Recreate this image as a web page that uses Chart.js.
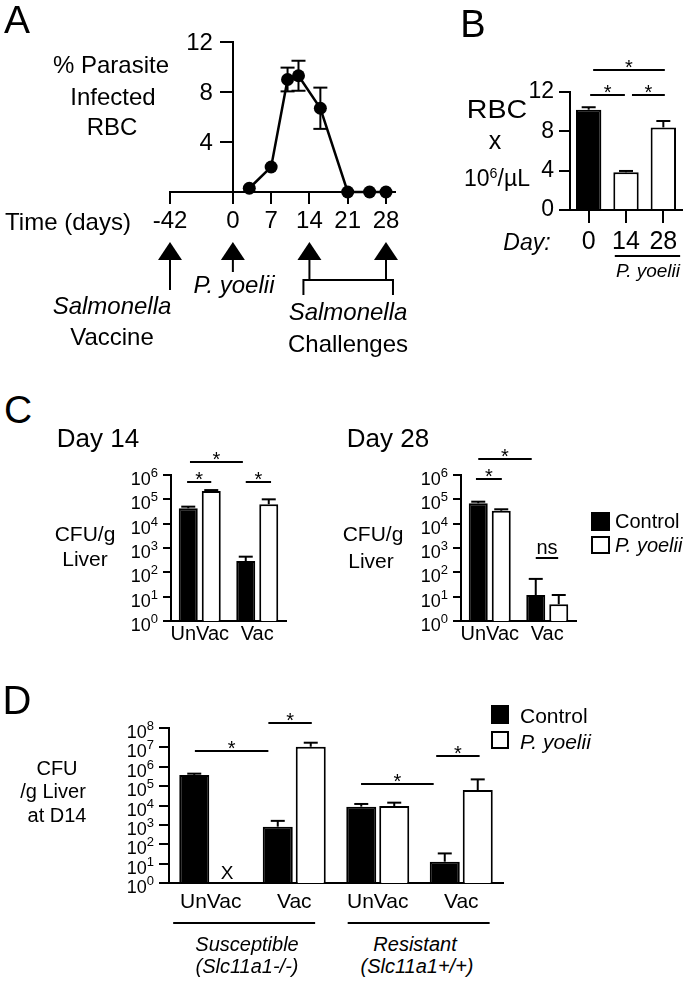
<!DOCTYPE html>
<html><head><meta charset="utf-8">
<script src="https://cdn.jsdelivr.net/npm/chart.js@4.4.0/dist/chart.umd.min.js"></script>
<style>
html,body{margin:0;padding:0;background:#fff}
body{width:690px;height:982px;position:relative;overflow:hidden;font-family:"Liberation Sans",Arial,sans-serif;color:#000}
canvas{position:absolute}
.t{position:absolute;transform:translate(-50%,-50%);white-space:nowrap;line-height:1}
.l{position:absolute;transform:translate(0,-50%);white-space:nowrap;line-height:1}
.it{font-style:italic}
.sq{position:absolute;border:2px solid #000;box-sizing:border-box;background:#fff}
.sq.k{background:#000}
sup{font-size:0.62em;vertical-align:0.55em;line-height:0}
</style></head><body>
<canvas id="cA" width="460" height="360" style="left:0;top:0"></canvas>
<canvas id="cB" width="230" height="300" style="left:460px;top:0"></canvas>
<canvas id="cC14" width="340" height="220" style="left:0;top:440px"></canvas>
<canvas id="cC28" width="260" height="220" style="left:340px;top:440px"></canvas>
<canvas id="cD" width="520" height="240" style="left:0;top:690px"></canvas>

<!-- Panel A text -->
<div class="t" style="left:17px;top:19px;font-size:39px">A</div>
<div class="t" style="left:111px;top:65px;font-size:24px">% Parasite</div>
<div class="t" style="left:113px;top:97px;font-size:24px">Infected</div>
<div class="t" style="left:112px;top:127px;font-size:24px">RBC</div>
<div class="t" style="left:68px;top:222px;font-size:24px">Time (days)</div>
<div class="t it" style="left:234px;top:285px;font-size:24px">P. yoelii</div>
<div class="t it" style="left:112px;top:306px;font-size:24px">Salmonella</div>
<div class="t" style="left:112px;top:337px;font-size:24px">Vaccine</div>
<div class="t it" style="left:348px;top:312px;font-size:24px">Salmonella</div>
<div class="t" style="left:348px;top:344px;font-size:24px">Challenges</div>

<!-- Panel B text -->
<div class="t" style="left:473px;top:24px;font-size:38px">B</div>
<div class="t" style="left:497px;top:109px;font-size:26px;transform:translate(-50%,-50%) scaleX(1.1)">RBC</div>
<div class="t" style="left:495px;top:140px;font-size:25px">x</div>
<div class="t" style="left:497px;top:178px;font-size:23px">10<sup>6</sup>/µL</div>
<div class="t it" style="left:527px;top:242px;font-size:23px">Day:</div>
<div class="t it" style="left:648px;top:270px;font-size:19px">P. yoelii</div>

<!-- Panel C text -->
<div class="t" style="left:18px;top:409px;font-size:39px">C</div>
<div class="t" style="left:98px;top:438px;font-size:26px">Day 14</div>
<div class="t" style="left:388px;top:438px;font-size:26px">Day 28</div>
<div class="t" style="left:85px;top:533px;font-size:21px">CFU/g</div>
<div class="t" style="left:85px;top:558px;font-size:21px">Liver</div>
<div class="t" style="left:373px;top:533px;font-size:21px">CFU/g</div>
<div class="t" style="left:371px;top:560px;font-size:21px">Liver</div>
<div class="sq k" style="left:591px;top:512px;width:19px;height:19px"></div>
<div class="sq" style="left:591px;top:536px;width:19px;height:18px"></div>
<div class="l" style="left:615px;top:521px;font-size:20px">Control</div>
<div class="l it" style="left:615px;top:545px;font-size:20px">P. yoelii</div>

<!-- Panel D text -->
<div class="t" style="left:17px;top:700px;font-size:40px">D</div>
<div class="t" style="left:57px;top:768px;font-size:20px">CFU</div>
<div class="t" style="left:53px;top:791px;font-size:20px">/g Liver</div>
<div class="t" style="left:57px;top:815px;font-size:20px">at D14</div>
<div class="t" style="left:227px;top:872px;font-size:19px">X</div>
<div class="t it" style="left:247px;top:944px;font-size:20px">Susceptible</div>
<div class="t it" style="left:247px;top:966px;font-size:20px">(Slc11a1-/-)</div>
<div class="t it" style="left:415px;top:944px;font-size:20px">Resistant</div>
<div class="t it" style="left:417px;top:966px;font-size:20px">(Slc11a1+/+)</div>
<div class="sq k" style="left:491px;top:705px;width:18px;height:19px"></div>
<div class="sq" style="left:491px;top:731px;width:18px;height:18px"></div>
<div class="l" style="left:520px;top:715px;font-size:21px">Control</div>
<div class="l it" style="left:520px;top:741px;font-size:21px">P. yoelii</div>

<script>
const F = '"Liberation Sans", Arial, sans-serif';

// ---------- Panel A: parasitemia time course ----------
const days = [3, 7, 10, 12, 16, 21, 25, 28];
const parasitemia = [0.3, 2.0, 9.0, 9.3, 6.7, 0, 0, 0];
const parasitemiaErr = [0, 0, 0.95, 1.2, 1.65, 0, 0, 0];
const timeTicks = [-42, 0, 7, 14, 21, 28];
const parasitemiaTicks = [4, 8, 12];
const eventDays = [-42, 0, 14, 28];          // vaccine, P. yoelii, two challenges
const BREAK_AT = -11.5;                      // axis break: day -42 drawn here
const dayPos = d => (d < BREAK_AT ? BREAK_AT : d);

// ---------- Panel B: RBC counts ----------
const rbcDays = ['0', '14', '28'];
const rbcCount = [10.2, 3.85, 8.4];
const rbcErr = [0.25, 0.12, 0.65];
const rbcTicks = [0, 4, 8, 12];
const rbcSig = [[0.04, 0.97, 11.65, '*'], [1.16, 2.04, 11.65, '*'], [0.12, 2.04, 14.2, '*']];

// ---------- Panel C: liver CFU, day 14 & 28 ----------
const vacGroups = ['UnVac', 'Vac'];
const d14Control = [4.3e4, 2.9e2];
const d14ControlErr = [7e3, 1.5e2];
const d14Pyoelii = [2.2e5, 6.3e4];
const d14PyoeliiErr = [2e4, 3.7e4];
const d28Control = [6.9e4, 11.7];
const d28ControlErr = [1.1e4, 42];
const d28Pyoelii = [3.4e4, 4.9];
const d28PyoeliiErr = [5e3, 6.8];
const cfuTicksC = [1, 10, 100, 1e3, 1e4, 1e5, 1e6];
const d14Sig = [[-0.22, 0.2, 5.1e5, '*'], [0.8, 1.24, 5.1e5, '*'], [-0.17, 0.75, 3.4e6, '*']];
const d28Sig = [[-0.24, 0.21, 6.9e5, '*'], [-0.2, 0.73, 4.6e6, '*'], [0.8, 1.19, 390, 'ns']];

// ---------- Panel D: susceptible vs resistant ----------
const strainGroups = ['UnVac', 'Vac', 'UnVac', 'Vac'];
const dControl = [3.8e5, 8.1e2, 8.7e3, 12.6];
const dControlErr = [6e4, 8e2, 3.3e3, 21];
const dPyoelii = [null, 1.08e7, 9.4e3, 6.3e4];
const dPyoeliiErr = [null, 6.6e6, 4.6e3, 1.6e5];
const cfuTicksD = [1, 10, 100, 1e3, 1e4, 1e5, 1e6, 1e7, 1e8];
const dSig = [[-0.19, 0.69, 6.5e6, '*'], [0.69, 1.21, 1.8e8, '*'], [1.8, 2.67, 1.3e5, '*'], [2.7, 3.22, 3.5e6, '*']];
const dStrainSpans = [[-0.45, 1.25], [1.64, 3.34]];

Chart.defaults.font.family = F;
Chart.defaults.color = '#000';

function seg(ctx, x1, y1, x2, y2) { ctx.beginPath(); ctx.moveTo(x1, y1); ctx.lineTo(x2, y2); ctx.stroke(); }

const barErrors = {
  id: 'barErrors',
  afterDatasetsDraw(chart) {
    const ctx = chart.ctx, y = chart.scales.y;
    ctx.save(); ctx.strokeStyle = '#000'; ctx.lineWidth = 2;
    chart.data.datasets.forEach((ds, di) => {
      if (!ds.errors) return;
      chart.getDatasetMeta(di).data.forEach((el, i) => {
        const v = ds.data[i], e = ds.errors[i];
        if (v == null || !e) return;
        const top = y.getPixelForValue(v + e);
        seg(ctx, el.x, el.y, el.x, top);
        seg(ctx, el.x - 7, top, el.x + 7, top);
      });
    });
    ctx.restore();
  }
};

const sig = {
  id: 'sig',
  afterDraw(chart, args, opts) {
    const ctx = chart.ctx, x = chart.scales.x, y = chart.scales.y;
    ctx.save(); ctx.strokeStyle = '#000'; ctx.fillStyle = '#000'; ctx.lineWidth = 2;
    ctx.textAlign = 'center'; ctx.textBaseline = 'alphabetic'; ctx.font = '20px ' + F;
    (opts.marks || []).forEach(([a, b, v, lab]) => {
      const x1 = x.getPixelForValue(a), x2 = x.getPixelForValue(b), py = Math.round(y.getPixelForValue(v));
      seg(ctx, x1, py, x2, py);
      ctx.fillText(lab, (x1 + x2) / 2, lab === 'ns' ? py - 4 : py + 4);
    });
    (opts.spans || []).forEach(([a, b]) => {
      const py = chart.chartArea.bottom + opts.spanOffset;
      seg(ctx, x.getPixelForValue(a), py, x.getPixelForValue(b), py);
    });
    ctx.restore();
  }
};

const powTicks = {
  id: 'powTicks',
  afterDraw(chart, args, opts) {
    const y = chart.scales.y, ctx = chart.ctx;
    const xr = y.right - opts.tick - opts.pad;
    ctx.save(); ctx.fillStyle = '#000'; ctx.textAlign = 'right'; ctx.textBaseline = 'alphabetic';
    y.ticks.forEach(t => {
      const py = y.getPixelForValue(t.value);
      const exp = String(Math.round(Math.log10(t.value)));
      ctx.font = opts.small + 'px ' + F;
      ctx.fillText(exp, xr, py + 2);
      const w = ctx.measureText(exp).width;
      ctx.font = opts.big + 'px ' + F;
      ctx.fillText('10', xr - w, py + 10);
    });
    ctx.restore();
  }
};

const baseOpts = { responsive: false, animation: false, devicePixelRatio: 1, events: [] };
const blackLine = { display: true, color: '#000', width: 2 };

// ---------- Chart A ----------
const timeline = {
  id: 'timeline',
  afterDraw(chart) {
    const ctx = chart.ctx, x = chart.scales.x, y = chart.scales.y;
    ctx.save(); ctx.strokeStyle = '#000'; ctx.fillStyle = '#000'; ctx.lineWidth = 2;
    // y tick labels, left of the tick marks of the axis that sits at day 0
    const ax = x.getPixelForValue(0);
    ctx.font = '24px ' + F; ctx.textAlign = 'right'; ctx.textBaseline = 'middle';
    y.ticks.forEach(t => ctx.fillText(String(t.value), ax - 12 - 8, y.getPixelForValue(t.value) + 1));
    // error bars (mean ± SEM)
    days.forEach((d, i) => {
      const e = parasitemiaErr[i]; if (!e) return;
      const px = x.getPixelForValue(d);
      const yt = y.getPixelForValue(parasitemia[i] + e), yb = y.getPixelForValue(parasitemia[i] - e);
      seg(ctx, px, yt, px, yb); seg(ctx, px - 7, yt, px + 7, yt); seg(ctx, px - 7, yb, px + 7, yb);
    });
    // event arrows under the time axis
    const b = chart.chartArea.bottom;
    const shaftEnd = [98, 80, 88, 88];
    eventDays.forEach((d, i) => {
      const px = x.getPixelForValue(dayPos(d));
      ctx.beginPath(); ctx.moveTo(px, b + 50); ctx.lineTo(px - 12, b + 68); ctx.lineTo(px + 12, b + 68); ctx.closePath(); ctx.fill();
      seg(ctx, px, b + 67, px, b + shaftEnd[i]);
    });
    const c1 = x.getPixelForValue(eventDays[2]) - 6, c2 = x.getPixelForValue(eventDays[3]) + 7;
    ctx.beginPath(); ctx.moveTo(c1, b + 103); ctx.lineTo(c1, b + 88); ctx.lineTo(c2, b + 88); ctx.lineTo(c2, b + 103); ctx.stroke();
    ctx.restore();
  }
};

new Chart(document.getElementById('cA'), {
  type: 'line',
  data: { datasets: [{
    data: days.map((d, i) => ({ x: d, y: parasitemia[i] })),
    borderColor: '#000', backgroundColor: '#000', borderWidth: 2.5,
    pointRadius: 6.5, pointBackgroundColor: '#000', pointBorderColor: '#000', pointBorderWidth: 0,
    tension: 0, clip: false
  }]},
  options: { ...baseOpts,
    layout: { padding: { left: 170, right: 65, top: 42, bottom: 123 } },
    plugins: { legend: { display: false }, tooltip: { enabled: false } },
    scales: {
      x: { type: 'linear', min: BREAK_AT, max: 29.65,
        afterBuildTicks: ax => { ax.ticks = timeTicks.map(d => ({ value: dayPos(d) })); },
        afterFit: ax => { ax.height = 45; },
        ticks: { autoSkip: false, maxRotation: 0, minRotation: 0, padding: 3, font: { size: 24 }, callback: (v, i) => String(timeTicks[i]) },
        grid: { display: true, drawOnChartArea: false, drawTicks: true, tickLength: 12, color: '#000', lineWidth: 2 },
        border: blackLine },
      y: { type: 'linear', min: 0, max: 12, position: { x: 0 },
        afterBuildTicks: ax => { ax.ticks = parasitemiaTicks.map(v => ({ value: v })); },
        ticks: { display: false, callback: v => String(v) },
        grid: { display: true, drawOnChartArea: false, drawTicks: true, tickLength: 12, color: '#000', lineWidth: 2 },
        border: blackLine }
    }
  },
  plugins: [timeline]
});

// ---------- Chart B ----------
new Chart(document.getElementById('cB'), {
  type: 'bar',
  data: { labels: rbcDays, datasets: [{
    data: rbcCount, errors: rbcErr,
    backgroundColor: ['#000', '#fff', '#fff'], borderColor: '#000', borderWidth: 2,
    barPercentage: 0.68, categoryPercentage: 1.0
  }]},
  options: { ...baseOpts,
    layout: { padding: { left: 0, right: 8, top: 92, bottom: 40 } },
    plugins: { legend: { display: false }, tooltip: { enabled: false },
      sig: { marks: rbcSig, spans: [[0.7, 2.45]], spanOffset: 46 } },
    scales: {
      x: { afterFit: ax => { ax.height = 50; },
        ticks: { padding: 4, font: { size: 25 }, maxRotation: 0, minRotation: 0, autoSkip: false },
        grid: { display: true, drawOnChartArea: false, drawTicks: true, tickLength: 13, color: '#000', lineWidth: 2, offset: false },
        border: blackLine },
      y: { min: 0, max: 12, afterFit: ax => { ax.width = 110; },
        afterBuildTicks: ax => { ax.ticks = rbcTicks.map(v => ({ value: v })); },
        ticks: { padding: 5, font: { size: 23 } },
        grid: { display: true, drawOnChartArea: false, drawTicks: true, tickLength: 11, color: '#000', lineWidth: 2 },
        border: blackLine }
    }
  },
  plugins: [barErrors, sig]
});

// ---------- log bar chart factory ----------
function cfuChart(id, labels, control, controlErr, pyo, pyoErr, ticks, yWidth, pad, xH, xPad, xFont, tickLen, bp, cp, sigOpts, pow) {
  return new Chart(document.getElementById(id), {
    type: 'bar',
    data: { labels, datasets: [
      { label: 'Control', data: control, errors: controlErr, backgroundColor: '#000', borderColor: '#000', borderWidth: 2, barPercentage: bp, categoryPercentage: cp },
      { label: 'P. yoelii', data: pyo, errors: pyoErr, backgroundColor: '#fff', borderColor: '#000', borderWidth: 2, barPercentage: bp, categoryPercentage: cp }
    ]},
    options: { ...baseOpts,
      layout: { padding: pad },
      plugins: { legend: { display: false }, tooltip: { enabled: false }, sig: sigOpts, powTicks: pow },
      scales: {
        x: { afterFit: ax => { ax.height = xH; },
          ticks: { padding: xPad, font: { size: xFont }, maxRotation: 0, minRotation: 0, autoSkip: false },
          grid: { display: false, drawTicks: false },
          border: blackLine },
        y: { type: 'logarithmic', min: ticks[0], max: ticks[ticks.length - 1],
          afterFit: ax => { ax.width = yWidth; },
          afterBuildTicks: ax => { ax.ticks = ticks.map(v => ({ value: v })); },
          ticks: { display: false, callback: v => '10^' + Math.round(Math.log10(v)) },
          grid: { display: true, drawOnChartArea: false, drawTicks: true, tickLength: tickLen, color: '#000', lineWidth: 2 },
          border: blackLine }
      }
    },
    plugins: [barErrors, sig, powTicks]
  });
}

cfuChart('cC14', vacGroups, d14Control, d14ControlErr, d14Pyoelii, d14PyoeliiErr, cfuTicksC,
  171, { left: 0, right: 54, top: 35, bottom: 9 }, 30, 1, 20, 8, 0.826, 0.8,
  { marks: d14Sig }, { tick: 8, pad: 5, big: 18, small: 13 });
cfuChart('cC28', vacGroups, d28Control, d28ControlErr, d28Pyoelii, d28PyoeliiErr, cfuTicksC,
  121, { left: 0, right: 24, top: 35, bottom: 9 }, 30, 1, 20, 8, 0.826, 0.8,
  { marks: d28Sig }, { tick: 8, pad: 5, big: 18, small: 13 });
cfuChart('cD', strainGroups, dControl, dControlErr, dPyoelii, dPyoeliiErr, cfuTicksD,
  169, { left: 0, right: 17, top: 38, bottom: 17 }, 30, 7, 21, 10, 0.91, 0.79,
  { marks: dSig, spans: dStrainSpans, spanOffset: 40 }, { tick: 10, pad: 5, big: 18, small: 13 });
</script>
</body></html>
